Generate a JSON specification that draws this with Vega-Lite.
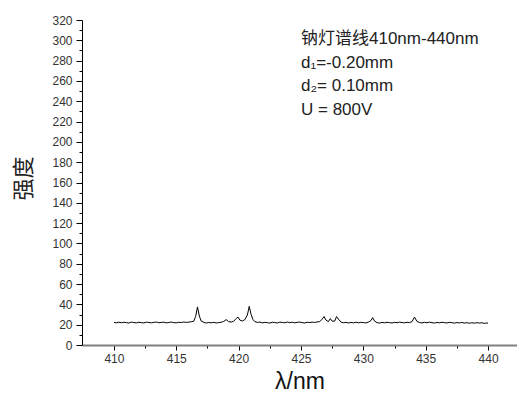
{
  "$schema": "https://vega.github.io/schema/vega-lite/v6.json",
  "width": 435,
  "height": 325,
  "autosize": {"type": "none"},
  "padding": {"left": 82, "top": 20, "right": 0, "bottom": 49},
  "background": "white",
  "config": {
    "view": {"stroke": null},
    "axis": {"grid": false, "labelFont": "Liberation Sans", "labelColor": "#333333", "tickColor": "#000000"}
  },
  "data": {
    "values": [
      {"wl": 410.0, "i": 22.3}, {"wl": 410.2, "i": 21.8}, {"wl": 410.4, "i": 22.5}, {"wl": 410.6, "i": 21.9},
      {"wl": 410.8, "i": 22.4}, {"wl": 411.0, "i": 22.0}, {"wl": 411.2, "i": 21.6}, {"wl": 411.4, "i": 22.6},
      {"wl": 411.6, "i": 22.1}, {"wl": 411.8, "i": 21.8}, {"wl": 412.0, "i": 22.4}, {"wl": 412.2, "i": 22.0},
      {"wl": 412.4, "i": 21.7}, {"wl": 412.6, "i": 22.5}, {"wl": 412.8, "i": 22.2}, {"wl": 413.0, "i": 21.8},
      {"wl": 413.2, "i": 22.3}, {"wl": 413.4, "i": 22.6}, {"wl": 413.6, "i": 21.9}, {"wl": 413.8, "i": 22.2},
      {"wl": 414.0, "i": 22.5}, {"wl": 414.2, "i": 21.8}, {"wl": 414.4, "i": 22.1}, {"wl": 414.6, "i": 22.6},
      {"wl": 414.8, "i": 22.0}, {"wl": 415.0, "i": 21.8}, {"wl": 415.2, "i": 22.4}, {"wl": 415.4, "i": 22.1},
      {"wl": 415.6, "i": 22.7}, {"wl": 415.8, "i": 22.2}, {"wl": 416.0, "i": 22.5}, {"wl": 416.2, "i": 22.9},
      {"wl": 416.4, "i": 23.4}, {"wl": 416.55, "i": 28.0}, {"wl": 416.7, "i": 37.5}, {"wl": 416.85, "i": 28.5},
      {"wl": 417.0, "i": 23.5}, {"wl": 417.2, "i": 22.4}, {"wl": 417.4, "i": 21.6}, {"wl": 417.6, "i": 22.2},
      {"wl": 417.8, "i": 21.8}, {"wl": 418.0, "i": 22.3}, {"wl": 418.2, "i": 21.7}, {"wl": 418.4, "i": 22.0},
      {"wl": 418.6, "i": 22.4}, {"wl": 418.8, "i": 23.2}, {"wl": 419.0, "i": 25.0}, {"wl": 419.2, "i": 23.0},
      {"wl": 419.4, "i": 22.6}, {"wl": 419.6, "i": 23.4}, {"wl": 419.8, "i": 26.0}, {"wl": 419.95, "i": 27.5},
      {"wl": 420.1, "i": 24.5}, {"wl": 420.3, "i": 23.6}, {"wl": 420.5, "i": 25.0}, {"wl": 420.7, "i": 29.5},
      {"wl": 420.85, "i": 38.0}, {"wl": 421.0, "i": 30.0}, {"wl": 421.15, "i": 25.0}, {"wl": 421.3, "i": 23.0},
      {"wl": 421.5, "i": 22.2}, {"wl": 421.7, "i": 22.6}, {"wl": 421.9, "i": 21.8}, {"wl": 422.1, "i": 22.3},
      {"wl": 422.3, "i": 22.0}, {"wl": 422.5, "i": 21.6}, {"wl": 422.7, "i": 22.4}, {"wl": 422.9, "i": 22.1},
      {"wl": 423.1, "i": 21.7}, {"wl": 423.3, "i": 22.5}, {"wl": 423.5, "i": 22.2}, {"wl": 423.7, "i": 21.9},
      {"wl": 423.9, "i": 22.6}, {"wl": 424.1, "i": 22.0}, {"wl": 424.3, "i": 22.4}, {"wl": 424.5, "i": 21.8},
      {"wl": 424.7, "i": 22.3}, {"wl": 424.9, "i": 22.6}, {"wl": 425.1, "i": 22.0}, {"wl": 425.3, "i": 21.7},
      {"wl": 425.5, "i": 22.4}, {"wl": 425.7, "i": 22.1}, {"wl": 425.9, "i": 22.5}, {"wl": 426.1, "i": 22.2},
      {"wl": 426.3, "i": 22.7}, {"wl": 426.5, "i": 23.0}, {"wl": 426.7, "i": 25.5}, {"wl": 426.85, "i": 28.0},
      {"wl": 427.0, "i": 24.5}, {"wl": 427.2, "i": 23.0}, {"wl": 427.35, "i": 26.0}, {"wl": 427.5, "i": 23.5},
      {"wl": 427.7, "i": 23.4}, {"wl": 427.85, "i": 28.0}, {"wl": 428.0, "i": 25.5}, {"wl": 428.2, "i": 22.6},
      {"wl": 428.4, "i": 21.9}, {"wl": 428.6, "i": 22.3}, {"wl": 428.8, "i": 21.7}, {"wl": 429.0, "i": 22.2},
      {"wl": 429.2, "i": 21.8}, {"wl": 429.4, "i": 22.4}, {"wl": 429.6, "i": 21.9}, {"wl": 429.8, "i": 22.3},
      {"wl": 430.0, "i": 22.1}, {"wl": 430.2, "i": 21.7}, {"wl": 430.4, "i": 22.5}, {"wl": 430.6, "i": 24.0},
      {"wl": 430.75, "i": 27.0}, {"wl": 430.9, "i": 23.5}, {"wl": 431.1, "i": 22.0}, {"wl": 431.3, "i": 21.6},
      {"wl": 431.5, "i": 22.2}, {"wl": 431.7, "i": 21.8}, {"wl": 431.9, "i": 22.4}, {"wl": 432.1, "i": 22.0},
      {"wl": 432.3, "i": 21.7}, {"wl": 432.5, "i": 22.3}, {"wl": 432.7, "i": 21.9}, {"wl": 432.9, "i": 22.5},
      {"wl": 433.1, "i": 22.1}, {"wl": 433.3, "i": 21.8}, {"wl": 433.5, "i": 22.4}, {"wl": 433.7, "i": 22.0},
      {"wl": 433.9, "i": 23.0}, {"wl": 434.1, "i": 27.5}, {"wl": 434.3, "i": 23.2}, {"wl": 434.5, "i": 22.1},
      {"wl": 434.7, "i": 21.7}, {"wl": 434.9, "i": 22.3}, {"wl": 435.1, "i": 21.9}, {"wl": 435.3, "i": 22.5},
      {"wl": 435.5, "i": 22.0}, {"wl": 435.7, "i": 21.6}, {"wl": 435.9, "i": 22.2}, {"wl": 436.1, "i": 21.8},
      {"wl": 436.3, "i": 22.4}, {"wl": 436.5, "i": 22.0}, {"wl": 436.7, "i": 21.7}, {"wl": 436.9, "i": 22.3},
      {"wl": 437.1, "i": 22.0}, {"wl": 437.3, "i": 21.5}, {"wl": 437.5, "i": 22.1}, {"wl": 437.7, "i": 21.7},
      {"wl": 437.9, "i": 22.2}, {"wl": 438.1, "i": 21.6}, {"wl": 438.3, "i": 22.0}, {"wl": 438.5, "i": 21.4},
      {"wl": 438.7, "i": 21.9}, {"wl": 438.9, "i": 21.5}, {"wl": 439.1, "i": 22.0}, {"wl": 439.3, "i": 21.6},
      {"wl": 439.5, "i": 21.9}, {"wl": 439.7, "i": 21.3}, {"wl": 439.9, "i": 21.7}, {"wl": 440.0, "i": 21.5}
    ]
  },
  "layer": [
    {
      "mark": {"type": "line", "color": "#000000", "strokeWidth": 1, "clip": true},
      "encoding": {
        "x": {
          "field": "wl", "type": "quantitative",
          "scale": {"domain": [407.44, 442.32], "nice": false, "zero": false},
          "axis": {
            "title": "λ/nm",
            "titleFont": "Liberation Sans", "titleFontSize": 23, "titleFontWeight": "normal", "titleColor": "#111111",
            "titleX": 217.5, "titleY": 36, "titleBaseline": "middle", "titleAlign": "center", "titleAnchor": null,
            "values": [410, 412.5, 415, 417.5, 420, 422.5, 425, 427.5, 430, 432.5, 435, 437.5, 440],
            "labelExpr": "datum.value % 5 === 0 ? datum.label : ''",
            "labelFontSize": 12, "labelOverlap": false, "labelFlush": false,
            "tickSize": {"condition": {"test": "datum.value % 5 === 0", "value": 5}, "value": 3},
            "tickWidth": 1, "labelPadding": 3, "labelBaseline": "top",
            "domainColor": "#808080", "domainWidth": 2
          }
        },
        "y": {
          "field": "i", "type": "quantitative",
          "scale": {"domain": [0, 320], "nice": false},
          "axis": {
            "title": "强度",
            "titleFont": "Noto Sans CJK SC", "titleFontSize": 22, "titleFontWeight": "normal", "titleColor": "#222222",
            "titleX": -59, "titleY": 158, "titleAngle": -90, "titleBaseline": "middle", "titleAlign": "center",
            "values": [0, 10, 20, 30, 40, 50, 60, 70, 80, 90, 100, 110, 120, 130, 140, 150, 160, 170, 180, 190, 200, 210, 220, 230, 240, 250, 260, 270, 280, 290, 300, 310, 320],
            "labelExpr": "datum.value % 20 === 0 ? datum.label : ''",
            "labelFontSize": 12, "labelOverlap": false, "labelFlush": false,
            "tickSize": {"condition": {"test": "datum.value % 20 === 0", "value": 6}, "value": 3},
            "tickWidth": 1, "labelPadding": 4,
            "domainColor": "#000000", "domainWidth": 1
          }
        }
      }
    },
    {
      "data": {"values": [{}]},
      "mark": {"type": "text", "text": ["钠灯谱线410nm-440nm", "d₁=-0.20mm", "d₂= 0.10mm", "U = 800V"], "lineHeight": 23.5, "align": "left", "baseline": "alphabetic", "font": "Liberation Sans, Noto Sans CJK SC, DejaVu Sans", "fontSize": 17, "color": "#222222"},
      "encoding": {
        "x": {
          "datum": 425.0, "type": "quantitative",
          "axis": {
            "title": "λ/nm",
            "titleFont": "Liberation Sans", "titleFontSize": 23, "titleFontWeight": "normal", "titleColor": "#111111",
            "titleX": 217.5, "titleY": 36, "titleBaseline": "middle", "titleAlign": "center", "titleAnchor": null,
            "values": [410, 412.5, 415, 417.5, 420, 422.5, 425, 427.5, 430, 432.5, 435, 437.5, 440],
            "labelExpr": "datum.value % 5 === 0 ? datum.label : ''",
            "labelFontSize": 12, "labelOverlap": false, "labelFlush": false,
            "tickSize": {"condition": {"test": "datum.value % 5 === 0", "value": 5}, "value": 3},
            "tickWidth": 1, "labelPadding": 3, "labelBaseline": "top",
            "domainColor": "#808080", "domainWidth": 2
          }
        },
        "y": {
          "datum": 296, "type": "quantitative",
          "axis": {
            "title": "强度",
            "titleFont": "Noto Sans CJK SC", "titleFontSize": 22, "titleFontWeight": "normal", "titleColor": "#222222",
            "titleX": -59, "titleY": 158, "titleAngle": -90, "titleBaseline": "middle", "titleAlign": "center",
            "values": [0, 10, 20, 30, 40, 50, 60, 70, 80, 90, 100, 110, 120, 130, 140, 150, 160, 170, 180, 190, 200, 210, 220, 230, 240, 250, 260, 270, 280, 290, 300, 310, 320],
            "labelExpr": "datum.value % 20 === 0 ? datum.label : ''",
            "labelFontSize": 12, "labelOverlap": false, "labelFlush": false,
            "tickSize": {"condition": {"test": "datum.value % 20 === 0", "value": 6}, "value": 3},
            "tickWidth": 1, "labelPadding": 4,
            "domainColor": "#000000", "domainWidth": 1
          }
        }
      }
    }
  ]
}
